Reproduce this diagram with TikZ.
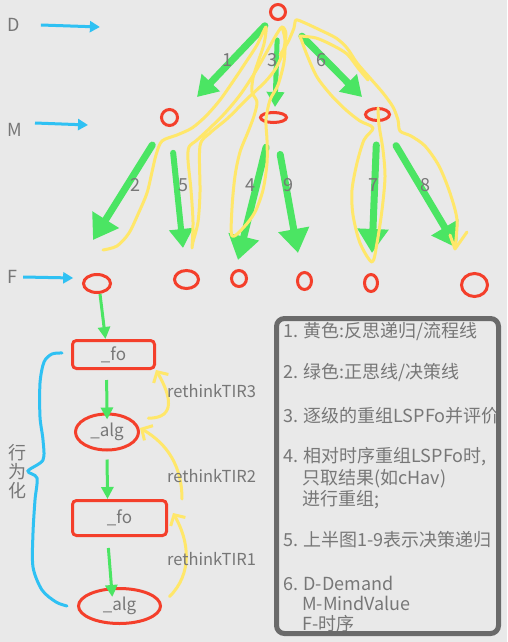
\documentclass[tikz,border=0pt]{standalone}
\usepackage{fontspec}
\setmainfont{Noto Sans CJK SC}
\usepackage{tikz}
\usetikzlibrary{shapes, arrows, arrows.meta}
\definecolor{bgcol}{HTML}{E9E9E9}
\definecolor{redcol}{HTML}{F43F2B}
\definecolor{greencol}{HTML}{4BE563}
\definecolor{yelcol}{HTML}{FFE76A}
\definecolor{bluecol}{HTML}{2FC1F3}
\definecolor{txtcol}{HTML}{777777}
\definecolor{boxcol}{HTML}{6A6A6A}
\tikzstyle{lbl}=[text=txtcol, inner sep=0pt, font=\fontsize{18}{19}\selectfont]
\tikzstyle{circ}=[draw=redcol, line width=3pt, ellipse, inner sep=0pt]
\tikzstyle{fobox}=[draw=redcol, line width=3pt, rectangle, rounded corners=4pt, text=txtcol, font=\fontsize{17}{17}\selectfont]
\tikzstyle{algell}=[circ, text=txtcol, font=\fontsize{17}{17}\selectfont]
\tikzstyle{greenarrow}=[draw=greencol, line width=7pt, line cap=round, -{Triangle[length=24pt,width=30pt]}]
\tikzstyle{smallhead}=[-{Triangle[length=20pt,width=24pt]}]
\tikzstyle{thinarrow}=[draw=greencol, line width=3pt, -{Triangle[length=12pt,width=12pt]}]
\tikzstyle{bluearrow}=[draw=bluecol, line width=3pt, -{Triangle[length=10pt,width=11pt]}]
\tikzstyle{yline}=[draw=yelcol, line width=3pt, line cap=round, line join=round]
\tikzstyle{yarrow}=[yline, -{Straight Barb[length=8pt,width=17pt]}]
\tikzstyle{legend}=[text=txtcol, anchor=west, inner sep=0pt, font=\fontsize{18}{21}\selectfont]
\tikzstyle{tir}=[text=txtcol, anchor=west, inner sep=0pt, font=\fontsize{16.5}{17}\selectfont]

\begin{document}
\begin{tikzpicture}[x=1pt, y=-1pt]
	\fill[bgcol] (0,0) rectangle (507,642);
	\useasboundingbox (0,0) rectangle (507,642);
	\node[lbl] (lD) at (13.5,25) {D};
	\node[lbl] (lM) at (14.5,130) {M};
	\node[lbl] (lF) at (12,277) {F};
	\draw[bluearrow] ([xshift=21pt]lD.east) -- ++(59,2);
	\draw[bluearrow] ([shift={(13,-7)}]lM.east) -- ++(53,2);
	\draw[bluearrow] ([xshift=6pt]lF.east) -- ++(50,1);
	\node[circ, minimum width=15pt, minimum height=15pt] (dem) at (278,12) {};
	\node[circ, minimum width=16pt, minimum height=16pt] (m1) at (169.5,117.5) {};
	\node[circ, minimum width=26pt, minimum height=10pt] (m2) at (273.5,117.5) {};
	\node[circ, minimum width=24pt, minimum height=12pt] (m3) at (377.5,114.5) {};
	\node[circ, minimum width=27pt, minimum height=18pt] (f1) at (97,283.5) {};
	\node[circ, minimum width=24pt, minimum height=18pt] (f2) at (186.5,279.5) {};
	\node[circ, minimum width=15pt, minimum height=16pt] (f3) at (239,278.5) {};
	\node[circ, minimum width=14pt, minimum height=17pt] (f4) at (304.5,281) {};
	\node[circ, minimum width=13pt, minimum height=17pt] (f5) at (371,283) {};
	\node[circ, minimum width=26pt, minimum height=23pt] (f6) at (474.5,285) {};
	\coordinate (t1) at (197,97);
	\coordinate (t3) at (275,107);
	\coordinate (t6) at (362,97);
	\coordinate (t2) at (93,240);
	\coordinate (t5) at (183,248);
	\coordinate (t4) at (238,260);
	\coordinate (t9) at (298,253);
	\coordinate (t7) at (372,253);
	\coordinate (t8) at (457,248);
	\draw[greenarrow, smallhead, shorten <=10pt] (dem) -- (t1);
	\draw[greenarrow, line width=5pt, -{Triangle[length=15pt,width=17pt]}, shorten <=19pt] (dem) -- (t3);
	\draw[greenarrow, smallhead, shorten <=25pt] (dem) -- (t6);
	\draw[greenarrow, shorten <=23pt] (m1) -- (t2);
	\draw[greenarrow, line width=6pt, -{Triangle[length=19pt,width=23pt]}, shorten <=26pt] (m1) -- (t5);
	\draw[greenarrow, shorten <=24pt] (m2) -- (t4);
	\draw[greenarrow, shorten <=31pt] (m2) -- (t9);
	\draw[greenarrow, shorten <=23pt] (m3) -- (t7);
	\draw[greenarrow, shorten <=28pt] (m3) -- (t8);
	\node[lbl] (n1) at (227,60) {1};
	\node[lbl] (n3) at (272,60) {3};
	\node[lbl] (n6) at (321,60) {6};
	\node[lbl] (n2) at (135,185) {2};
	\node[lbl] (n5) at (183,185) {5};
	\node[lbl] (n4) at (250,185) {4};
	\node[lbl] (n9) at (288,185) {9};
	\node[lbl] (n7) at (373,185) {7};
	\node[lbl] (n8) at (425,185) {8};
	\draw[yline] plot[smooth] coordinates {(103,250) (117,246) (129,233) (139,212) (147,193) (152,172) (156,155) (162,141) (177,135) (192,128) (206,116) (220,100) (234,80) (246,62) (257,45) (266,27) (264,44) (258,62) (253,78) (252,92) (257,102) (254,116) (248,132) (240,152) (235,176) (232,208) (232,236) (244,227) (255,212) (263,190) (267,163) (267,140) (266,120) (270,100) (278,85) (284,62) (285,40) (282,27)};
	\draw[yline] plot[smooth] coordinates {(192,248) (193,222) (191,190) (188,160) (189,147) (197,140) (210,128) (225,113) (240,95) (254,74) (265,55) (275,37) (282,27) (286,34) (283,52) (276,68) (265,82) (248,98) (228,118) (210,133) (200,146) (200,192) (198,222) (193,242) (192,248)};
	\draw[yline] plot[smooth] coordinates {(280,55) (288,42) (294,28) (296,20) (305,23) (320,30) (336,38) (347,48) (357,63) (370,78) (383,93) (393,107) (398,120) (400,131) (411,136) (425,146) (439,166) (450,193) (457,220) (455,248)};
	\draw[yline] (450,235) -- (455,249) -- (467,232);
	\draw[yline] plot[smooth] coordinates {(300,36) (316,38) (332,45) (347,54) (358,68) (368,80)};
	\draw[yline] plot[smooth] coordinates {(300,36) (307,55) (317,77) (331,95) (346,110) (360,121) (373,128) (364,140) (357,163) (352,190) (353,215) (360,243) (372,262) (377,243) (382,210) (385,177) (383,150) (379,125) (378,108)};
	\node[fobox, minimum width=82pt, minimum height=28pt] (fo1) at (113.5,354.5) {\_fo};
	\node[algell, minimum width=63pt, minimum height=36pt] (alg1) at (107,432) {\_alg};
	\node[fobox, minimum width=94pt, minimum height=35pt] (fo2) at (119.5,518) {\_fo};
	\node[algell, minimum width=82pt, minimum height=35pt] (alg2) at (119.5,606) {\_alg};
	\draw[thinarrow] ([xshift=3pt]f1.south) -- ([xshift=-8pt]fo1.north);
	\draw[thinarrow, shorten <=10pt, shorten >=-7pt] ([xshift=-7pt]fo1.south) -- (alg1.north);
	\draw[thinarrow, shorten <=8pt] (alg1.south) -- ([xshift=-12pt]fo2.north);
	\draw[thinarrow, shorten <=11pt, shorten >=-10pt] ([xshift=-12pt]fo2.south) -- ([xshift=-8pt]alg2.north);
	\draw[yarrow] ([xshift=18pt]alg1.north east) to[out=0, in=-60, looseness=1.5] (fo1.south east);
	\draw[yarrow] ([xshift=14pt]fo2.north east) to[out=90, in=-30] ([yshift=4pt]alg1.east);
	\draw[yarrow] ([xshift=20pt,yshift=-4pt]alg2.north east) to[out=45, in=-60] ([xshift=5pt,yshift=5pt]fo2.east);
	\node[tir] (r3) at (167,391) {rethinkTIR3};
	\node[tir] (r2) at (167,476) {rethinkTIR2};
	\node[tir] (r1) at (167,559) {rethinkTIR1};
	\draw[draw=bluecol, line width=3pt, line cap=round] plot[smooth] coordinates {(62,353) (52,354) (44,362) (40,383) (40,417) (43,440) (43,460) (28,471) (37,478) (35,500) (33,533) (33,567) (42,590) (56,602) (67,606)};
	\node[lbl, align=center] (xwh) at (18,472) {行\\为\\化};
	\begin{scope}
		\clip[rounded corners=8pt] (276.5,318.5) rectangle (498.5,633.5);
		\node[legend] (g1) at (283,332) {1. 黄色:反思递归/流程线};
		\node[legend] (g2) at (283,373) {2. 绿色:正思线/决策线};
		\node[legend] (g3) at (283,416) {3. 逐级的重组LSPFo并评价};
		\node[legend] (g4) at (283,457) {4. 相对时序重组LSPFo时,};
		\node[legend] (g4b) at (302,478.5) {只取结果(如cHav)};
		\node[legend] (g4c) at (302,500) {进行重组;};
		\node[legend] (g5) at (283,540) {5. 上半图1-9表示决策递归};
		\node[legend] (g6) at (283,583) {6. D-Demand};
		\node[legend] (g6b) at (302,603.5) {M-MindValue};
		\node[legend] (g6c) at (302,624) {F-时序};
	\end{scope}
	\draw[draw=boxcol, line width=5pt, rounded corners=8pt] (276.5,318.5) rectangle (498.5,633.5);
\end{tikzpicture}
\end{document}
